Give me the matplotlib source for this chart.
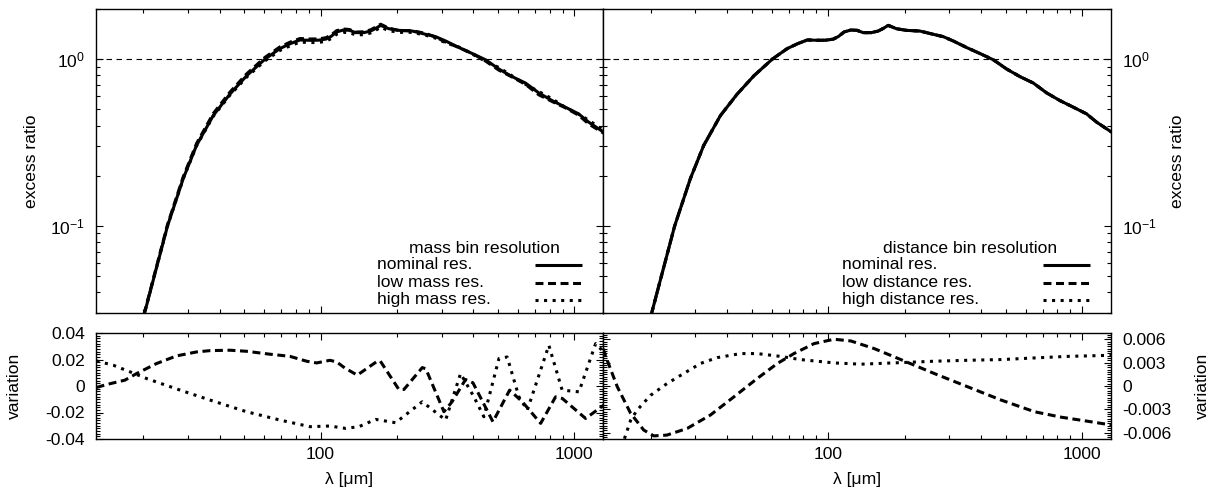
import math
import matplotlib
matplotlib.use('Agg')
import matplotlib.pyplot as plt
from matplotlib.ticker import FixedLocator, FuncFormatter, MultipleLocator, NullFormatter

plt.rcParams['font.family'] = ['Liberation Sans', 'DejaVu Sans']
plt.rcParams['mathtext.default'] = 'regular'
plt.rcParams['axes.unicode_minus'] = False
FS = 12.6
plt.rcParams['font.size'] = FS

# ---------------- data ----------------
# excess ratio, nominal resolution
lam_top = [19.5, 20.2, 22.0, 24.9, 28.7, 32.4, 37.7, 43.9, 51.1, 60.3, 69.1, 76.0, 82.9,
           90.8, 98.0, 105.0, 110.0, 115.6, 122.9, 130.0, 137.4, 148.2, 157.5, 165.0,
           172.5, 185.9, 203.5, 229.9, 259.6, 284.1, 311.2, 351.4, 396.4, 447.7, 505.2,
           570.2, 643.0, 726.0, 819.0, 924.0, 1041.0, 1141.0, 1307.0]
nominal_ratio = [0.0247, 0.0299, 0.049, 0.100, 0.192, 0.304, 0.459, 0.618, 0.796, 1.000,
                 1.158, 1.240, 1.304, 1.298, 1.300, 1.320, 1.370, 1.456, 1.496, 1.490,
                 1.443, 1.443, 1.475, 1.530, 1.595, 1.523, 1.489, 1.475, 1.410, 1.365,
                 1.286, 1.174, 1.081, 0.991, 0.872, 0.785, 0.719, 0.627, 0.564, 0.515,
                 0.470, 0.419, 0.365]
low_mass_ratio = [0.02497, 0.03026, 0.04978, 0.1020, 0.1966, 0.3119, 0.4714, 0.6347, 0.8167,
                  1.0245, 1.1846, 1.2673, 1.3301, 1.3214, 1.3228, 1.3451, 1.3960, 1.4822,
                  1.5169, 1.5064, 1.4545, 1.4603, 1.5001, 1.5586, 1.6205, 1.5352, 1.4851,
                  1.4839, 1.4269, 1.3582, 1.2667, 1.1740, 1.0832, 0.9732, 0.8589, 0.7803,
                  0.7061, 0.6107, 0.5572, 0.5104, 0.4615, 0.4089, 0.3599]
high_mass_ratio = [0.02486, 0.03005, 0.04905, 0.0999, 0.1912, 0.3019, 0.4540, 0.6087, 0.7809,
                   0.9770, 1.1279, 1.2053, 1.2662, 1.2578, 1.2597, 1.2804, 1.3289, 1.4109,
                   1.4481, 1.4423, 1.3983, 1.4026, 1.4367, 1.4918, 1.5535, 1.4819, 1.4488,
                   1.4485, 1.3917, 1.3377, 1.2539, 1.1822, 1.0724, 0.9712, 0.8903, 0.7929,
                   0.7061, 0.6395, 0.5781, 0.5135, 0.4681, 0.4307, 0.3745]
# distance-bin variants are indistinguishable from nominal at this scale
low_dist_ratio = nominal_ratio
high_dist_ratio = nominal_ratio

# variation, mass bin resolution
lam_mass_low = [13.07, 14.3, 16.9, 18.8, 22.5, 27.0, 32.4, 36.6, 43.9, 51.0, 63.1, 75.6, 88.1,
                96.4, 108.8, 115.6, 124.8, 139.5, 167.3, 172.0, 203.5, 213.2, 251.8, 260.0,
                306.5, 330.0, 373.0, 399.0, 478.4, 556.8, 624.6, 738.0, 845.0, 898.0,
                1110.0, 1310.0]
var_mass_low = [-0.0011, 0.0011, 0.0044, 0.0094, 0.0169, 0.0227, 0.0257, 0.0267, 0.0270,
                0.0262, 0.0240, 0.0224, 0.0187, 0.0174, 0.0194, 0.0182, 0.0135, 0.0082,
                0.0187, 0.0188, -0.0026, -0.0026, 0.0139, 0.0130, -0.0194, -0.0119, 0.0049,
                0.0024, -0.0270, -0.0031, -0.0119, -0.0282, -0.0082, -0.0094, -0.0245,
                -0.0144]
lam_mass_high = [13.07, 15.2, 17.7, 20.6, 27.9, 37.7, 51.0, 69.1, 90.8, 108.8, 125.5, 141.6,
                 164.8, 197.6, 251.8, 311.2, 356.5, 402.6, 440.6, 505.2, 544.5, 605.8, 653.6,
                 795.0, 897.0, 1045.0, 1216.0, 1310.0]
var_mass_high = [0.0189, 0.0157, 0.0107, 0.0056, -0.0031, -0.0114, -0.0194, -0.0257, -0.0307,
                 -0.0302, -0.0320, -0.0307, -0.0252, -0.0277, -0.0119, -0.0257, 0.0094,
                 -0.0082, -0.0232, 0.0207, 0.0219, -0.0082, -0.0182, 0.0307, -0.0031,
                 -0.0044, 0.0320, 0.0257]

# variation, distance bin resolution
lam_dist_low = [13.0, 13.5, 14.8, 16.7, 18.8, 20.6, 23.2, 27.9, 34.4, 42.6, 52.6, 63.1, 73.4,
                88.1, 105.6, 122.9, 151.9, 193.4, 262.0, 354.5, 479.8, 649.5, 827.5,
                1023.0, 1303.0]
var_dist_low = [0.0048, 0.0033, -0.0001, -0.0035, -0.00565, -0.0064, -0.0063, -0.00544,
                -0.00373, -0.00139, 0.00096, 0.00288, 0.00416, 0.00544, 0.0060, 0.00578,
                0.0048, 0.00339, 0.0016, -0.0001, -0.0018, -0.0033, -0.0040, -0.00446,
                -0.0050]
lam_dist_high = [15.4, 16.7, 17.7, 20.0, 23.2, 27.0, 31.5, 36.6, 45.2, 52.6, 65.0, 77.9,
                 105.6, 134.6, 193.4, 262.0, 354.5, 479.8, 649.5, 879.0, 1303.0]
var_dist_high = [-0.0078, -0.0044, -0.0031, -0.0012, 0.0003, 0.0016, 0.0029, 0.00364,
                 0.00416, 0.00416, 0.0038, 0.00339, 0.00296, 0.0028, 0.0030, 0.00318,
                 0.0033, 0.00339, 0.0036, 0.0038, 0.00394]

xticks = [100, 1000]
top_yticks = [0.1, 1.0]
legend_labels_mass = ['nominal res.', 'low mass res.', 'high mass res.']
legend_labels_dist = ['nominal res.', 'low distance res.', 'high distance res.']

# ---------------- figure ----------------
W, H = 1214, 495
fig = plt.figure(figsize=(W / 100, H / 100), dpi=100)

def fr(x0, y0, x1, y1):
    return [x0 / W, 1 - y1 / H, (x1 - x0) / W, (y1 - y0) / H]

ax_tl = fig.add_axes(fr(96, 9, 603, 313))
ax_tr = fig.add_axes(fr(603, 9, 1111, 313))
ax_bl = fig.add_axes(fr(96, 333, 603, 439))
ax_br = fig.add_axes(fr(603, 333, 1111, 439))

LW = 2.2
solid = dict(color='black', lw=LW, ls='-', solid_capstyle='butt')
dashed = dict(color='black', lw=LW, ls=(0, (2.6, 1.5)), dash_capstyle='butt')
dotted = dict(color='black', lw=LW, ls=(0, (1.0, 1.8)), dash_capstyle='butt')

minor_x = [v * m for v in (10, 100, 1000) for m in range(2, 10)]
minor_top_y = [v * m for v in (0.01, 0.1, 1.0) for m in range(2, 10)]

def style_x(ax, labels):
    ax.set_xscale('log')
    ax.set_xlim(13, 1300)
    ax.xaxis.set_major_locator(FixedLocator(xticks))
    ax.xaxis.set_minor_locator(FixedLocator(minor_x))
    ax.xaxis.set_minor_formatter(NullFormatter())
    if labels:
        ax.xaxis.set_major_formatter(FuncFormatter(lambda v, p: f'{v:g}'))
    else:
        ax.xaxis.set_major_formatter(NullFormatter())

def style_ticks(ax, right_labels=False):
    ax.tick_params(which='both', direction='in', top=True, right=True, bottom=True, left=True,
                   width=0.8, labelsize=FS)
    ax.tick_params(axis='y', pad=8)
    ax.tick_params(axis='x', pad=6)
    ax.tick_params(which='major', length=5)
    ax.tick_params(which='minor', length=2.6)
    if right_labels:
        ax.tick_params(labelleft=False, labelright=True)
    for s in ax.spines.values():
        s.set_linewidth(1.0)

def manual_key(ax, title, labels, styles, title_x, text_x, rows_y, samp_x0, samp_x1, title_y):
    ax.text(title_x, title_y, title, transform=ax.transAxes, ha='center', va='center',
            fontsize=FS)
    for lab, st, yy in zip(labels, styles, rows_y):
        ax.text(text_x, yy, lab, transform=ax.transAxes, ha='left', va='center', fontsize=FS)
        ax.plot([samp_x0, samp_x1], [yy, yy], transform=ax.transAxes, clip_on=False, **st)

rows = [0.1579, 0.1000, 0.0428]

# top panels
for ax, lows, highs, right in ((ax_tl, low_mass_ratio, high_mass_ratio, False),
                               (ax_tr, low_dist_ratio, high_dist_ratio, True)):
    ax.plot(lam_top, lows, zorder=3, **dashed)
    ax.plot(lam_top, highs, zorder=3, **dotted)
    ax.plot(lam_top, nominal_ratio, zorder=4, **solid)
    ax.axhline(1.0, color='black', lw=0.8, ls=(0, (5, 4)), zorder=1)
    ax.set_yscale('log')
    ax.set_ylim(0.03, 2.0)
    ax.yaxis.set_major_locator(FixedLocator(top_yticks))
    ax.yaxis.set_minor_locator(FixedLocator(minor_top_y))
    ax.yaxis.set_minor_formatter(NullFormatter())
    ax.yaxis.set_major_formatter(FuncFormatter(lambda v, p: '$10^{%d}$' % round(math.log10(v))))
    style_x(ax, False)
    style_ticks(ax, right)

ax_tl.set_ylabel('excess ratio', labelpad=8)
ax_tr.yaxis.set_label_position('right')
ax_tr.set_ylabel('excess ratio', labelpad=9)

manual_key(ax_tl, 'mass bin resolution', legend_labels_mass, [solid, dashed, dotted],
           0.7653, 0.5542, rows, 0.8659, 0.9586, 0.2138)
manual_key(ax_tr, 'distance bin resolution', legend_labels_dist, [solid, dashed, dotted],
           0.7224, 0.4705, rows, 0.8654, 0.9579, 0.2138)

# bottom panels
ax_bl.plot(lam_mass_low, var_mass_low, **dashed)
ax_bl.plot(lam_mass_high, var_mass_high, **dotted)
ax_bl.set_ylim(-0.04, 0.04)
ax_bl.yaxis.set_major_locator(MultipleLocator(0.02))
ax_bl.yaxis.set_minor_locator(MultipleLocator(0.002))
ax_bl.yaxis.set_major_formatter(FuncFormatter(lambda v, p: '0' if abs(v) < 1e-12 else f'{v:.2f}'))
style_x(ax_bl, True)
style_ticks(ax_bl)
ax_bl.set_ylabel('variation', labelpad=17)
ax_bl.set_xlabel('λ [μm]', labelpad=7)

ax_br.plot(lam_dist_low, var_dist_low, **dashed)
ax_br.plot(lam_dist_high, var_dist_high, **dotted)
ax_br.set_ylim(-0.0068, 0.0068)
ax_br.yaxis.set_major_locator(MultipleLocator(0.003))
ax_br.yaxis.set_minor_locator(MultipleLocator(0.0003))
ax_br.yaxis.set_major_formatter(FuncFormatter(lambda v, p: '0' if abs(v) < 1e-12 else f'{v:.3f}'))
style_x(ax_br, True)
style_ticks(ax_br, True)
ax_br.yaxis.set_label_position('right')
ax_br.set_ylabel('variation', labelpad=17)
ax_br.set_xlabel('λ [μm]', labelpad=7)

fig.savefig('out.png', dpi=100)
